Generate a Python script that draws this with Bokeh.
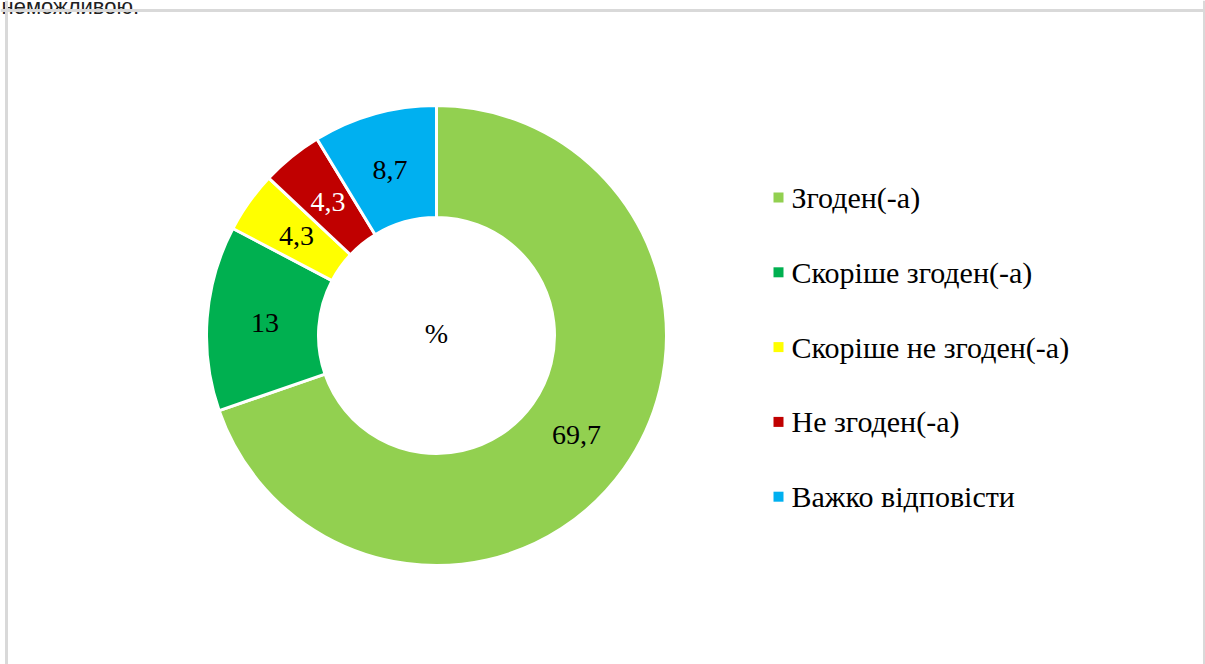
import numpy as np
from bokeh.plotting import figure
from bokeh.models import Range1d, Span
from bokeh.core.properties import value
from bokeh.embed import file_html
from bokeh.resources import INLINE

# ---- data ----
categories = ["Згоден(-а)", "Скоріше згоден(-а)", "Скоріше не згоден(-а)",
              "Не згоден(-а)", "Важко відповісти"]
values = [69.7, 13, 4.3, 4.3, 8.7]
value_labels = ["69,7", "13", "4,3", "4,3", "8,7"]
colors = ["#92D050", "#00B050", "#FFFF00", "#C00000", "#00B0F0"]
label_colors = ["black", "black", "black", "white", "black"]
center_label = "%"
top_text = "неможливою."

SANS = value("Liberation Sans")
SERIF = value("serif")

# ---- layout ----
W, H = 1205, 664
def sx(x):
    return x
def sy(y):
    return H - y

p = figure(width=W, height=H, x_range=Range1d(0, W), y_range=Range1d(0, H),
           output_backend="svg", toolbar_location=None, min_border=0)
p.axis.visible = False
p.grid.visible = False
p.outline_line_color = None

for loc in [sx(6), sx(1204)]:
    p.add_layout(Span(location=loc, dimension="height", line_color="#d9d9d9", line_width=3))
p.add_layout(Span(location=sy(10), dimension="width", line_color="#d9d9d9", line_width=3))

p.text(x=[sx(1)], y=[sy(6)], text=[top_text], text_font=SANS,
       text_font_size="22px", text_baseline="alphabetic", text_color="#222222")

cx, cy = sx(436), sy(335)
r_out, r_in = 230, 118
vals = np.array(values, dtype=float)
cum = np.cumsum(vals) / vals.sum()
prev = np.concatenate([[0], cum[:-1]])
start = np.pi / 2 - 2 * np.pi * prev
end = np.pi / 2 - 2 * np.pi * cum
mid = (start + end) / 2

p.annular_wedge(x=cx, y=cy, inner_radius=r_in, outer_radius=r_out,
                start_angle=list(start), end_angle=list(end), direction="clock",
                fill_color=colors, line_color="white", line_width=3)

r_lab = 172
p.text(x=list(cx + r_lab * np.cos(mid)), y=list(cy + r_lab * np.sin(mid)),
       text=value_labels, text_color=label_colors,
       text_font=SERIF, text_font_size="28px",
       text_align="center", text_baseline="middle")

p.text(x=[cx], y=[cy + 2], text=[center_label], text_font=SERIF,
       text_font_size="28px", text_align="center", text_baseline="middle",
       text_color="black")

ly0, ldy = sy(197), 74.8
ly = [ly0 - i * ldy for i in range(len(categories))]
p.scatter(x=[sx(778)] * len(categories), y=ly, marker="square", size=10,
          fill_color=colors, line_color=None)
p.text(x=[sx(791)] * len(categories), y=ly, text=categories,
       text_font=SERIF, text_font_size="30px",
       text_align="left", text_baseline="middle", text_color="black")

open("out.html", "w").write(file_html(p, INLINE))
